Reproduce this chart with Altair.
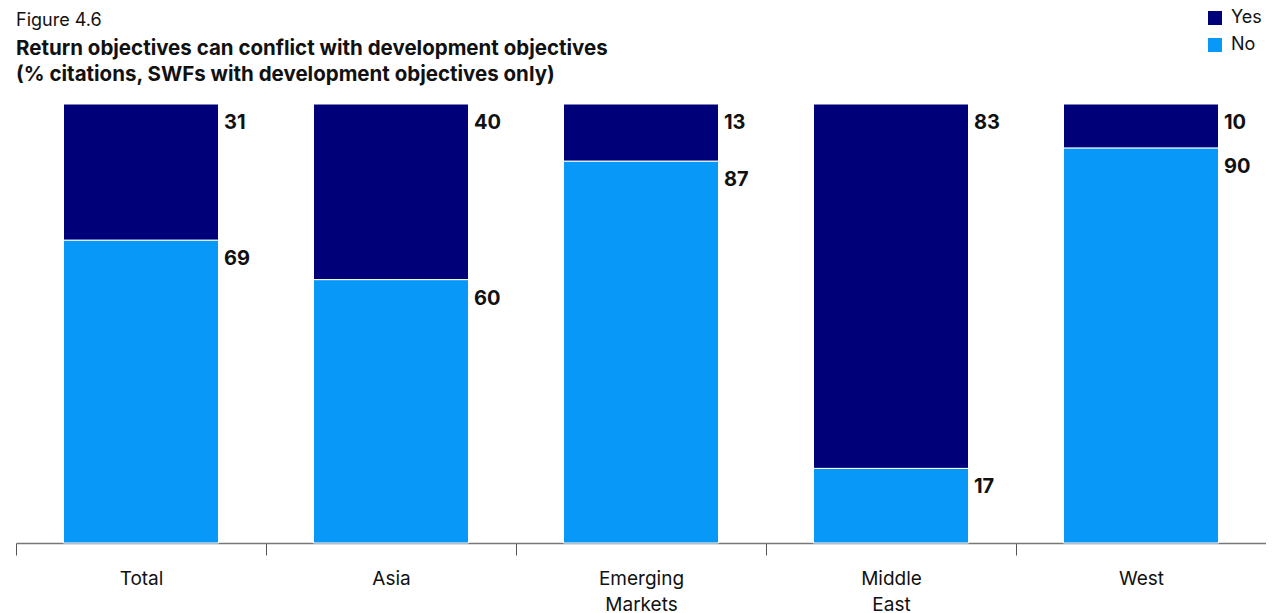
import altair as alt
import pandas as pd

categories = ["Total", "Asia", "Emerging Markets", "Middle East", "West"]
yes_values = [31, 40, 13, 83, 10]
no_values = [69, 60, 87, 17, 90]

rows = []
for c, y, n in zip(categories, yes_values, no_values):
    rows.append({"cat": c, "series": "No", "value": n, "start": 0, "end": n})
    rows.append({"cat": c, "series": "Yes", "value": y, "start": n, "end": n + y})
df = pd.DataFrame(rows)

FONT = "Inter"
x = alt.X("cat:N", sort=categories, title=None,
          scale=alt.Scale(paddingInner=0, paddingOuter=0),
          axis=alt.Axis(labelAngle=0, labelFontSize=19, labelFont=FONT, labelColor="#111",
                        labelExpr="split(datum.label, ' ')", labelLineHeight=26,
                        tickBand="extent", tickSize=12, tickColor="#555", domainColor="#777",
                        labelPadding=14, domainWidth=1.5))

color = alt.Color("series:N", scale=alt.Scale(domain=["Yes", "No"], range=["#000078", "#0898F8"]),
                  legend=alt.Legend(title=None, orient="none", legendX=1190, legendY=-95,
                                    symbolType="square", symbolSize=196, symbolStrokeWidth=0,
                                    labelFontSize=18, labelFont=FONT, labelColor="#111",
                                    rowPadding=9, labelOffset=7))

bars = alt.Chart(df).mark_bar(stroke="white", strokeWidth=1, size=155).encode(
    x=x,
    y=alt.Y("start:Q", scale=alt.Scale(domain=[0, 100]), axis=None),
    y2="end:Q",
    color=color,
)

labels = alt.Chart(df).mark_text(align="left", baseline="top", dx=83, dy=9,
                                 fontSize=20, fontWeight="bold", font=FONT, color="#111").encode(
    x=alt.X("cat:N", sort=categories),
    y=alt.Y("end:Q"),
    text="value:Q",
)

chart = (bars + labels).properties(
    width=1250, height=439,
    autosize=alt.AutoSizeParams(type="none"),
    padding={"top": 96, "left": 8, "right": 0, "bottom": 70},
    title=alt.TitleParams(
        text="Figure 4.6",
        subtitle=["Return objectives can conflict with development objectives",
                  "(% citations, SWFs with development objectives only)"],
        anchor="start", frame="group", orient="top", offset=0, dy=76,
        font=FONT, fontSize=18, fontWeight="normal", color="#111",
        subtitleFont=FONT, subtitleFontSize=20.5, subtitleFontWeight="bold",
        subtitleColor="#111", subtitleLineHeight=26, subtitlePadding=9,
    ),
).configure_view(stroke=None)

chart.save("out.html", embed_options={"renderer": "svg", "actions": False})
